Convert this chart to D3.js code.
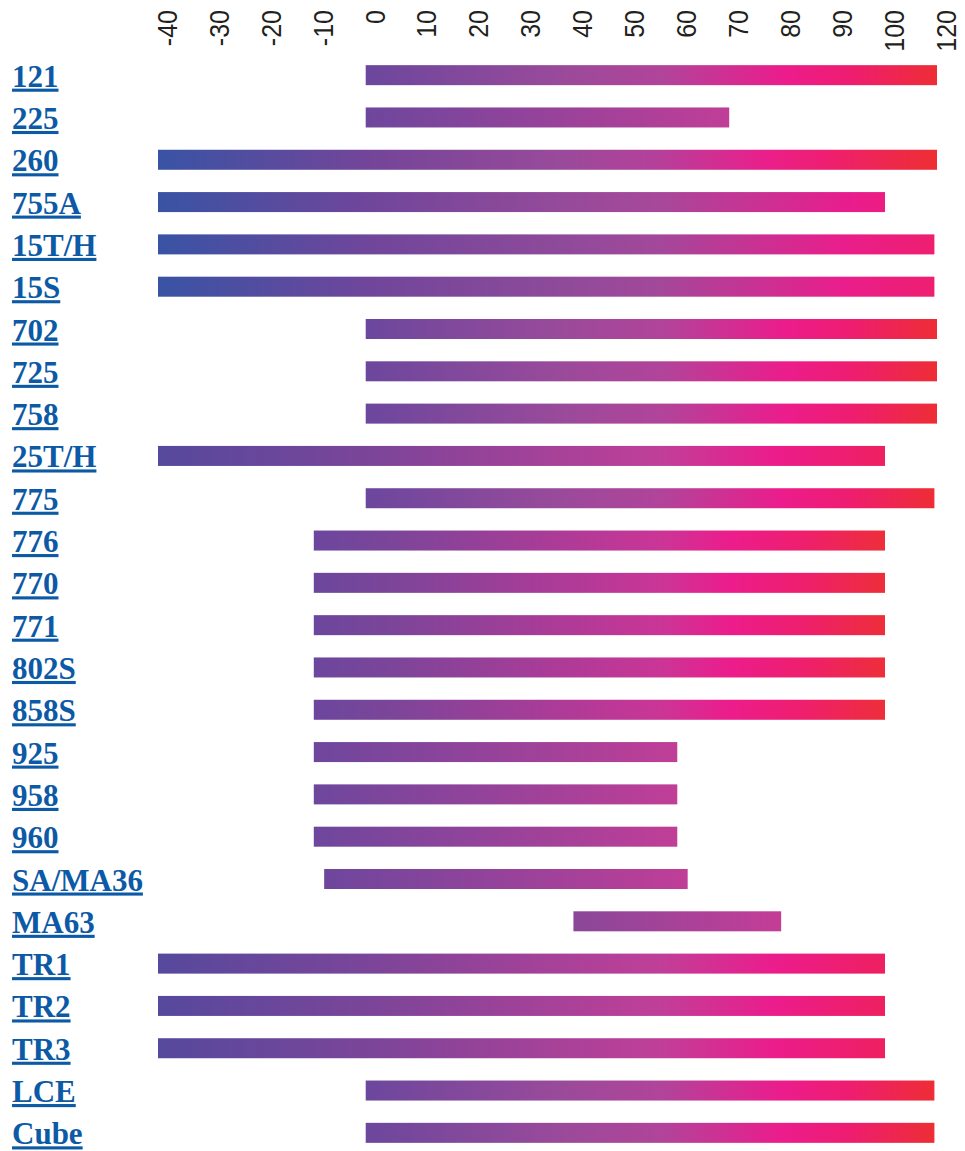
<!DOCTYPE html>
<html>
<head>
<meta charset="utf-8">
<script src="https://cdn.jsdelivr.net/npm/d3@7"></script>
<style>
  body { margin: 0; background: #fff; }
  .tick-label { font-family: "Liberation Sans", Arial, sans-serif; font-size: 25px; fill: #231f20; }
  .row-label { font-family: "Liberation Serif", "Times New Roman", serif; font-size: 31px; font-weight: bold; fill: #0c5aa6; text-decoration: underline; }
</style>
</head>
<body>
<div id="range_chart"></div>
<script>
// data
const products = ["121", "225", "260", "755A", "15T/H", "15S", "702", "725", "758", "25T/H", "775",
  "776", "770", "771", "802S", "858S", "925", "958", "960", "SA/MA36", "MA63", "TR1", "TR2", "TR3", "LCE", "Cube"];
const rangeMin = [0, 0, -40, -40, -40, -40, 0, 0, 0, -40, 0,
  -10, -10, -10, -10, -10, -10, -10, -10, -8, 40, -40, -40, -40, 0, 0];
const rangeMax = [120, 70, 120, 100, 119, 119, 120, 120, 120, 100, 119,
  100, 100, 100, 100, 100, 60, 60, 60, 62, 80, 100, 100, 100, 119, 119];
const tickValues = [-40, -30, -20, -10, 0, 10, 20, 30, 40, 50, 60, 70, 80, 90, 100, 120];

// gradient look for each bar (styling, not data)
const gradients = {
  blueRed:   [[0, "#3953a4"], [0.27, "#734599"], [0.52, "#9a4a9a"], [0.64, "#b5409a"], [0.78, "#ea1f8b"], [0.86, "#ee1f70"], [1, "#ee2e32"]],
  bluePink:  [[0, "#3953a4"], [0.28, "#6e469b"], [0.55, "#954a9a"], [0.69, "#a8489a"], [0.95, "#e81d8d"], [1, "#ee1c84"]],
  blueRose:  [[0, "#3953a4"], [0.27, "#6f469b"], [0.52, "#8f4a9a"], [0.645, "#a3489a"], [0.88, "#e91e8c"], [1, "#ee1f70"]],
  purpleRed: [[0, "#6b479d"], [0.34, "#9a4a9a"], [0.52, "#b1449a"], [0.735, "#ec1c8c"], [0.85, "#ee1d70"], [1, "#ee2d35"]],
  violetRose:[[0, "#56499d"], [0.3, "#7c4599"], [0.69, "#c03f98"], [0.85, "#ec1c8c"], [1, "#ee2060"]],
  plumRed:   [[0, "#6b479d"], [0.14, "#7c4599"], [0.61, "#cb3596"], [0.73, "#ec1c8c"], [0.86, "#ee1f6c"], [1, "#ee2e3a"]],
  short:     [[0, "#6d479d"], [1, "#c03e97"]],
  mid:       [[0, "#8a4799"], [1, "#c43d97"]]
};
const barLook = ["purpleRed", "short", "blueRed", "bluePink", "blueRose", "blueRose", "purpleRed", "purpleRed", "purpleRed",
  "violetRose", "purpleRed", "plumRed", "plumRed", "plumRed", "plumRed", "plumRed", "short", "short", "short", "short",
  "mid", "violetRose", "violetRose", "violetRose", "purpleRed", "purpleRed"];

let width = 965,
    height = 1151,
    margin = ({ top: 54, right: 28, bottom: -3, left: 158 });

const svg = d3.select("#range_chart")
  .append("svg")
  .attr("width", width)
  .attr("height", height)
  .attr("viewBox", [0, 0, width, height]);

let rows = products.map((p, i) => ({ name: p, lo: rangeMin[i], hi: rangeMax[i], look: barLook[i] }));

// the axis is squeezed between 100 and 120
let x = d3.scaleLinear()
  .domain([-40, 100, 120])
  .range([margin.left, 885, width - margin.right]);

let y = d3.scaleBand()
  .domain(products)
  .range([margin.top, height - margin.bottom])
  .paddingInner(0.527)
  .paddingOuter(0.2635);

// one gradient per bar, stretched over the bar
const defs = svg.append("defs");
rows.forEach((d, i) => {
  let g = defs.append("linearGradient")
    .attr("id", "grad" + i)
    .attr("x1", "0%").attr("x2", "100%")
    .attr("y1", "0%").attr("y2", "0%");
  g.selectAll("stop")
    .data(gradients[d.look])
    .join("stop")
    .attr("offset", s => s[0])
    .attr("stop-color", s => s[1]);
});

// tick labels on top, rotated (glyphs a bit taller than wide)
svg.append("g")
  .selectAll("text")
  .data(tickValues)
  .join("text")
  .attr("class", "tick-label")
  .attr("transform", d => `translate(${x(d) + 9},10) rotate(-90) scale(1,1.12)`)
  .attr("text-anchor", "end")
  .attr("dy", "0.35em")
  .text(d => d);

// bars
svg.append("g")
  .selectAll("rect")
  .data(rows)
  .join("rect")
  .attr("x", d => x(d.lo))
  .attr("y", d => y(d.name))
  .attr("width", d => x(d.hi) - x(d.lo))
  .attr("height", y.bandwidth())
  .attr("fill", (d, i) => `url(#grad${i})`);

// product names on the left
svg.append("g")
  .selectAll("text")
  .data(rows)
  .join("text")
  .attr("class", "row-label")
  .attr("x", 12)
  .attr("y", d => y(d.name) + y.bandwidth() / 2 + 11.5)
  .text(d => d.name);
</script>
</body>
</html>
